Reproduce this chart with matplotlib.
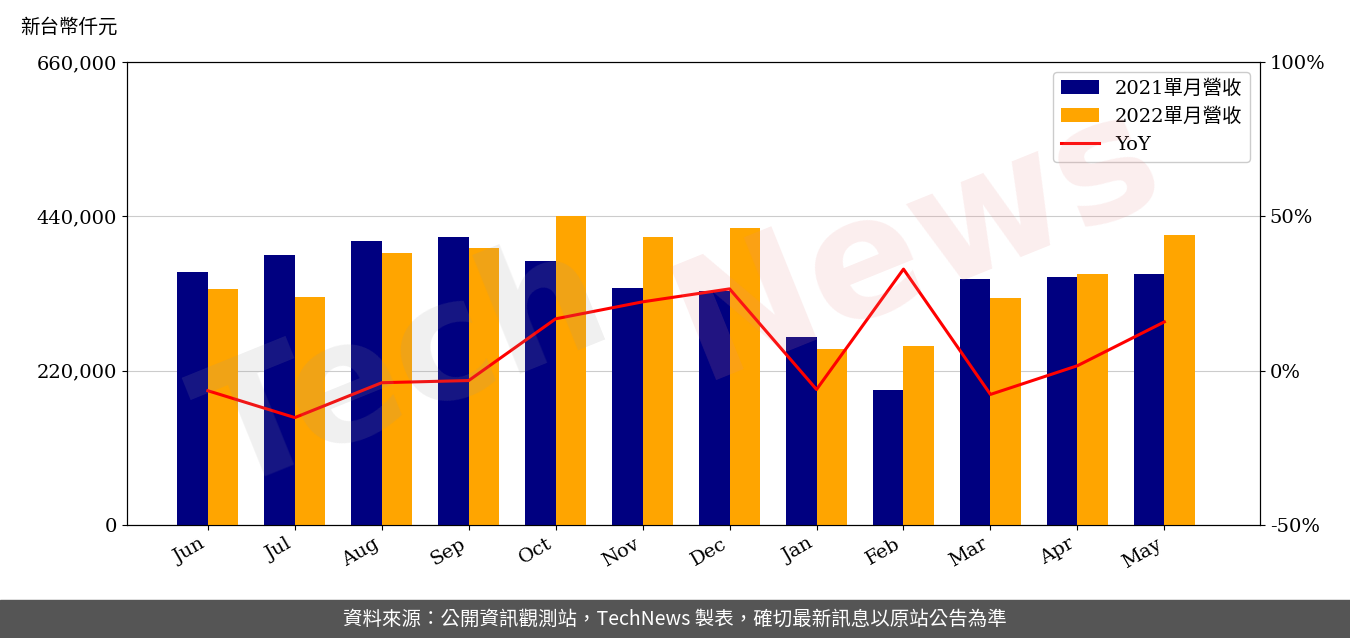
import numpy as np
import matplotlib
matplotlib.use('Agg')
import matplotlib.pyplot as plt
from matplotlib.ticker import FuncFormatter

plt.rcParams['font.family'] = ['DejaVu Serif', 'Noto Sans CJK TC']

months = ['Jun', 'Jul', 'Aug', 'Sep', 'Oct', 'Nov', 'Dec', 'Jan', 'Feb', 'Mar', 'Apr', 'May']
rev_2021 = [360650, 384900, 404800, 410500, 376300, 337800, 333600, 268000, 192400, 350700, 353500, 357800]
rev_2022 = [336400, 325000, 387700, 394900, 440500, 410500, 423400, 250900, 255200, 323600, 357800, 413400]
yoy = [-6.5, -15.2, -3.9, -3.2, 16.8, 22.3, 26.5, -6.1, 32.9, -7.7, 1.6, 15.8]

fig = plt.figure(figsize=(13.5, 6.38), dpi=100)
ax = fig.add_axes([127/1350, 1-525/638, (1260-127)/1350, (525-62)/638])
x = np.arange(len(months))
w = 0.35
ax.bar(x - w/2, rev_2021, w, color='#000080', label='2021單月營收', zorder=3)
ax.bar(x + w/2, rev_2022, w, color='#FFA500', label='2022單月營收', zorder=3)
ax.set_ylim(0, 660000)
ax.set_yticks([0, 220000, 440000, 660000])
ax.yaxis.set_major_formatter(FuncFormatter(lambda v, p: f'{int(v):,}'))
ax.grid(axis='y', color='#cccccc', zorder=0)
ax.set_xticks(x)
ax.set_xticklabels(months, rotation=30, ha='right')
ax.tick_params(labelsize=14)

ax2 = ax.twinx()
line, = ax2.plot(x, yoy, color='red', lw=2.2, label='YoY', zorder=4)
ax2.set_ylim(-50, 100)
ax2.set_yticks([-50, 0, 50, 100])
ax2.yaxis.set_major_formatter(FuncFormatter(lambda v, p: f'{int(v)}%'))
ax2.tick_params(labelsize=14)
ax.set_xlim(-0.93, 12.1)

h1, l1 = ax.get_legend_handles_labels()
ax2.legend(h1 + [line], l1 + ['YoY'], loc='upper right', fontsize=14, framealpha=1)

# watermark: grey "Tech", pink "News"
fig.text(0.30, 0.42, 'Tech', fontsize=120, color='#999999', alpha=0.15,
         rotation=22, ha='center', va='center', fontweight='bold', family='DejaVu Sans', zorder=0)
fig.text(0.68, 0.62, 'News', fontsize=120, color='#e88a8a', alpha=0.15,
         rotation=22, ha='center', va='center', fontweight='bold', family='DejaVu Sans', zorder=0)
fig.text(20/1350, 1-27/638, '新台幣仟元', fontsize=14, va='center', family='Noto Sans CJK TC')

fig.patches.append(plt.Rectangle((0, 0), 1, 38/638, transform=fig.transFigure, color='#555555'))
fig.text(0.5, 19/638, '資料來源：公開資訊觀測站，TechNews 製表，確切最新訊息以原站公告為準',
         color='white', fontsize=14, ha='center', va='center', family='Noto Sans CJK TC')

fig.savefig('out.png')
